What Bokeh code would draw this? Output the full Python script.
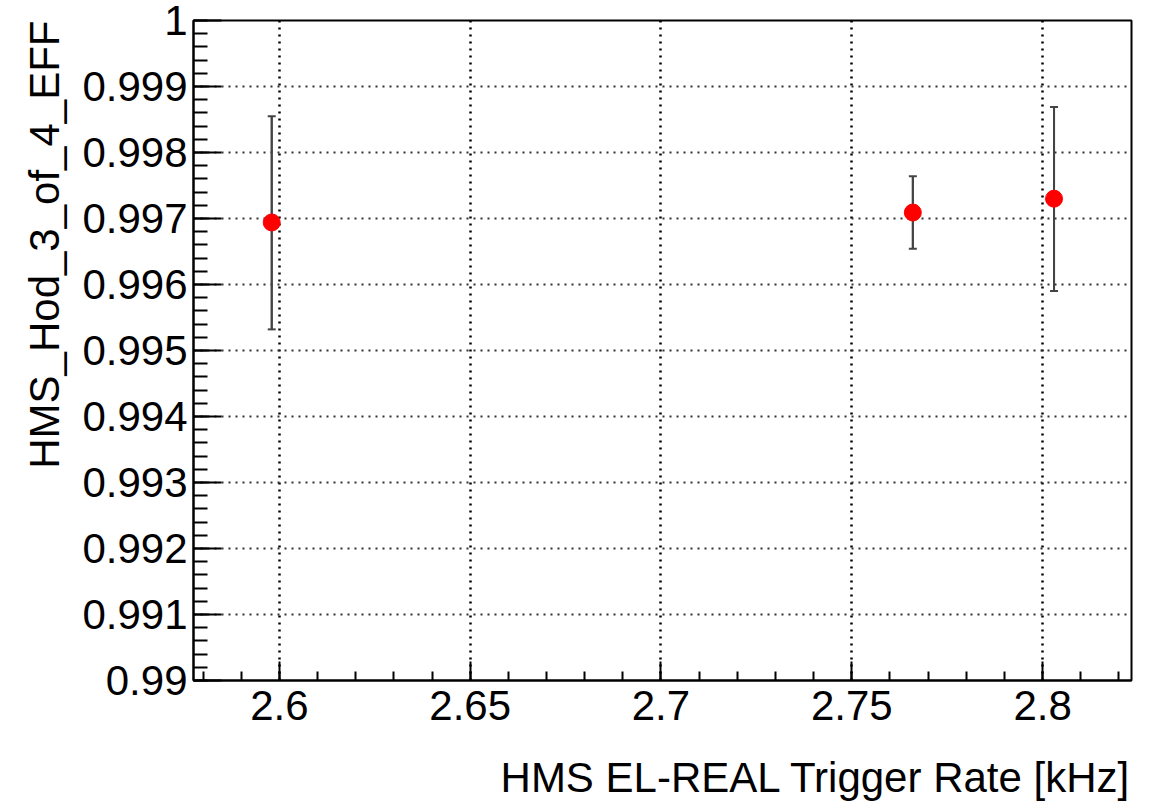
from bokeh.plotting import figure
from bokeh.models import FixedTicker, Range1d, Title, Whisker, ColumnDataSource
from bokeh.embed import file_html
from bokeh.resources import INLINE

# data
rate_khz = [2.598, 2.766, 2.803]
eff = [0.99694, 0.99709, 0.99730]
eff_upper = [0.99855, 0.99764, 0.99869]
eff_lower = [0.99532, 0.99654, 0.99590]

x_ticks = [2.6, 2.65, 2.7, 2.75, 2.8]
x_tick_labels = ["2.6", "2.65", "2.7", "2.75", "2.8"]
y_ticks = [0.99, 0.991, 0.992, 0.993, 0.994, 0.995, 0.996, 0.997, 0.998, 0.999, 1.0]
y_tick_labels = ["0.99", "0.991", "0.992", "0.993", "0.994", "0.995", "0.996",
                 "0.997", "0.998", "0.999", "1"]

x_title = "HMS EL-REAL Trigger Rate [kHz]"
y_title = "HMS_Hod_3_of_4_EFF"

FONT = "Liberation Sans"
FS = "42px"

p = figure(width=1156, height=810, output_backend="svg", toolbar_location=None,
           x_range=Range1d(2.5775, 2.8233), y_range=Range1d(0.99, 1.0),
           min_border_left=193, min_border_right=25, min_border_top=20,
           min_border_bottom=126)
p.background_fill_color = "white"
p.border_fill_color = "white"
p.outline_line_color = "black"
p.outline_line_width = 2

x_minor = [round(2.57 + 0.01 * i, 4) for i in range(0, 26)]
y_minor = [round(0.99 + 0.0002 * i, 5) for i in range(0, 51)]
p.xaxis.ticker = FixedTicker(ticks=x_ticks, minor_ticks=x_minor)
p.yaxis.ticker = FixedTicker(ticks=y_ticks, minor_ticks=y_minor)
p.xaxis.major_label_overrides = dict(zip(x_ticks, x_tick_labels))
p.yaxis.major_label_overrides = dict(zip(y_ticks, y_tick_labels))

for ax in (p.xaxis[0], p.yaxis[0]):
    ax.axis_line_color = "black"
    ax.axis_line_width = 2
    ax.major_tick_line_color = "black"
    ax.minor_tick_line_color = "black"
    ax.major_tick_line_width = 2
    ax.minor_tick_line_width = 2
    ax.major_tick_out = 0
    ax.minor_tick_out = 0
    ax.major_label_text_font = FONT
    ax.major_label_text_font_size = FS
    ax.major_label_text_color = "black"

p.xaxis.major_tick_in = 19
p.xaxis.minor_tick_in = 9
p.yaxis.major_tick_in = 28
p.yaxis.minor_tick_in = 14
p.xaxis.major_label_standoff = 10
p.yaxis.major_label_standoff = 6

# small invisible spacer label under the x tick labels to push the title down
p.xaxis.axis_label = "\u00a0"
p.xaxis.axis_label_text_font_size = "12px"
p.xaxis.axis_label_standoff = 2

p.add_layout(Title(text=x_title, align="right", text_font=FONT, text_font_size=FS,
                   text_font_style="normal", text_color="black", standoff=20), "below")
p.add_layout(Title(text=y_title, align="right", text_font=FONT, text_font_size=FS,
                   text_font_style="normal", text_color="black", standoff=24), "left")

p.xgrid.ticker = FixedTicker(ticks=x_ticks)
p.ygrid.ticker = FixedTicker(ticks=y_ticks)
p.xgrid.grid_line_color = "black"
p.xgrid.grid_line_width = 2.5
p.xgrid.grid_line_dash = "2 5"
p.ygrid.grid_line_color = "#333333"
p.ygrid.grid_line_width = 2
p.ygrid.grid_line_dash = "2 5"

src = ColumnDataSource(dict(x=rate_khz, y=eff, up=eff_upper, lo=eff_lower))
p.segment(x0="x", y0="lo", x1="x", y1="up", source=src, line_color="#444444", line_width=2)
w = Whisker(base="x", upper="up", lower="lo", source=src, line_color="#444444", line_width=2)
w.upper_head.size = 8
w.lower_head.size = 8
w.upper_head.line_color = "#444444"
w.lower_head.line_color = "#444444"
w.upper_head.line_width = 2
w.lower_head.line_width = 2
p.add_layout(w)
p.scatter(x="x", y="y", source=src, size=17, fill_color="#ff0000", line_color="#ff0000")

open("out.html", "w").write(file_html(p, INLINE))
